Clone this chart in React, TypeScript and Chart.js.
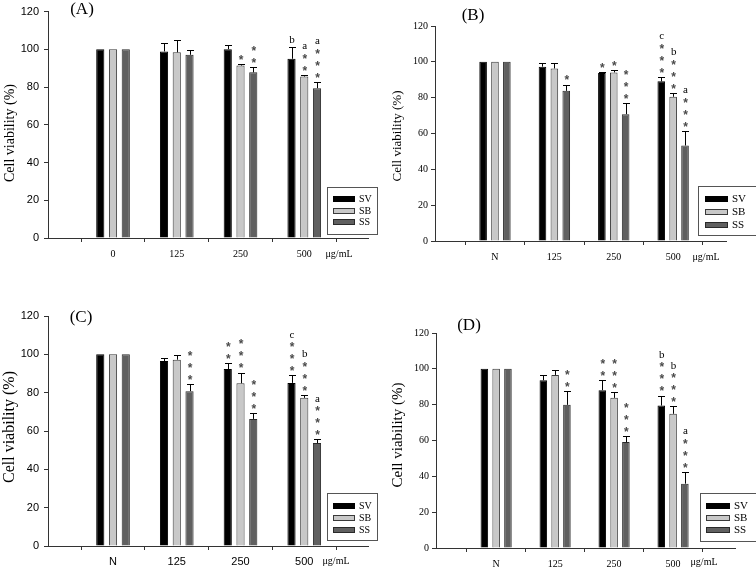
import React, { useEffect, useRef } from 'react';
import { Chart, registerables } from 'chart.js';

Chart.register(...registerables);

const SERIF = "'Liberation Serif', 'Times New Roman', serif";
const SANS = "'Liberation Sans', Arial, sans-serif";

// ---------- data ----------
const seriesNames = ['SV', 'SB', 'SS'];
const dosesA = ['0', '125', '250', '500'];
const dosesN = ['N', '125', '250', '500'];
const unitLabel = 'μg/mL';
const yTitle = 'Cell viability (%)';

// Panel A
const svA = [100, 98.9, 100.1, 95.0];
const sbA = [100, 98.4, 91.4, 85.6];
const ssA = [100, 97.1, 87.8, 79.4];
const svErrA = [0, 4.2, 2.3, 6.3];
const sbErrA = [0, 6.5, 0.9, 1.0];
const ssErrA = [0, 2.3, 3.0, 3.4];
const svStarsA = [0, 0, 0, 0];
const sbStarsA = [0, 0, 1, 2];
const ssStarsA = [0, 0, 2, 3];
const svLetterA = ['', '', '', 'b'];
const sbLetterA = ['', '', '', 'a'];
const ssLetterA = ['', '', '', 'a'];

// Panel B
const svB = [100, 97.3, 93.7, 89.1];
const sbB = [100, 96.3, 94.1, 80.5];
const ssB = [100, 83.8, 70.8, 53.3];
const svErrB = [0, 1.8, 0.8, 2.6];
const sbErrB = [0, 2.8, 1.1, 2.2];
const ssErrB = [0, 3.5, 6.3, 8.2];
const svStarsB = [0, 0, 1, 3];
const sbStarsB = [0, 0, 1, 3];
const ssStarsB = [0, 1, 3, 3];
const svLetterB = ['', '', '', 'c'];
const sbLetterB = ['', '', '', 'b'];
const ssLetterB = ['', '', '', 'a'];

// Panel C
const svC = [100, 96.5, 92.3, 85.1];
const sbC = [100, 97.2, 84.9, 77.3];
const ssC = [100, 80.8, 66.3, 53.7];
const svErrC = [0, 1.4, 3.3, 3.9];
const sbErrC = [0, 2.4, 5.6, 1.5];
const ssErrC = [0, 3.6, 3.3, 1.9];
const svStarsC = [0, 0, 2, 3];
const sbStarsC = [0, 0, 3, 3];
const ssStarsC = [0, 3, 3, 3];
const svLetterC = ['', '', '', 'c'];
const sbLetterC = ['', '', '', 'b'];
const ssLetterC = ['', '', '', 'a'];

// Panel D
const svD = [100, 93.6, 88.1, 79.5];
const sbD = [100, 96.6, 83.8, 74.9];
const ssD = [100, 79.9, 59.1, 35.9];
const svErrD = [0, 3.2, 5.7, 5.6];
const sbErrD = [0, 2.6, 3.0, 4.1];
const ssErrD = [0, 7.8, 3.5, 6.6];
const svStarsD = [0, 0, 2, 3];
const sbStarsD = [0, 0, 3, 3];
const ssStarsD = [0, 2, 3, 3];
const svLetterD = ['', '', '', 'b'];
const sbLetterD = ['', '', '', 'b'];
const ssLetterD = ['', '', '', 'a'];

// ---------- styles ----------
const fills = ['#000000', '#c8c8c8', '#606060'];
const borders = ['#000000', '#3a3a3a', '#2a2a2a'];

type Series = { values: number[]; err: number[]; stars: number[]; letters: string[] };
type PanelCfg = {
  label: string;
  left: number; top: number; w: number; h: number;
  area: { l: number; t: number; r: number; b: number };
  xMin: number; xMax: number;
  cats: string[];
  series: Series[];
  yFont: { family: string; size: number }; yPad: number;
  xFont: { family: string; size: number }; xPad: number;
  labelPos: [number, number];
  unitPos: [number, number];
  titlePos: [number, number]; titleSize: number;
  legend: { x: number; y: number; w: number; h: number; rows: number[]; swX: number; swW: number; textX: number; size: number };
};

const panels: PanelCfg[] = [
  {
    label: '(A)', left: 0, top: 0, w: 378, h: 284,
    area: { l: 48, t: 7, r: 368, b: 238 }, xMin: -1.02, xMax: 4.0, cats: dosesA,
    series: [
      { values: svA, err: svErrA, stars: svStarsA, letters: svLetterA },
      { values: sbA, err: sbErrA, stars: sbStarsA, letters: sbLetterA },
      { values: ssA, err: ssErrA, stars: ssStarsA, letters: ssLetterA },
    ],
    yFont: { family: SANS, size: 11 }, yPad: 5,
    xFont: { family: SERIF, size: 10 }, xPad: 6,
    labelPos: [82, 10], unitPos: [339, 254], titlePos: [10, 133], titleSize: 14,
    legend: { x: 327, y: 187, w: 50, h: 47, rows: [199, 210.5, 222], swX: 333, swW: 22, textX: 359, size: 10 },
  },
  {
    label: '(B)', left: 378, top: 0, w: 378, h: 284,
    area: { l: 57, t: 26, r: 348, b: 241 }, xMin: -1.01, xMax: 3.89, cats: dosesN,
    series: [
      { values: svB, err: svErrB, stars: svStarsB, letters: svLetterB },
      { values: sbB, err: sbErrB, stars: sbStarsB, letters: sbLetterB },
      { values: ssB, err: ssErrB, stars: ssStarsB, letters: ssLetterB },
    ],
    yFont: { family: SERIF, size: 10 }, yPad: 3,
    xFont: { family: SERIF, size: 10 }, xPad: 6,
    labelPos: [95, 16], unitPos: [328, 257], titlePos: [20, 136], titleSize: 13,
    legend: { x: 320, y: 186, w: 60, h: 49, rows: [199, 212, 225], swX: 327, swW: 23, textX: 354, size: 11 },
  },
  {
    label: '(C)', left: 0, top: 284, w: 378, h: 284,
    area: { l: 48, t: 32, r: 368, b: 262 }, xMin: -1.02, xMax: 4.0, cats: dosesN,
    series: [
      { values: svC, err: svErrC, stars: svStarsC, letters: svLetterC },
      { values: sbC, err: sbErrC, stars: sbStarsC, letters: sbLetterC },
      { values: ssC, err: ssErrC, stars: ssStarsC, letters: ssLetterC },
    ],
    yFont: { family: SANS, size: 11 }, yPad: 5,
    xFont: { family: SANS, size: 11 }, xPad: 5,
    labelPos: [81, 34], unitPos: [336, 277], titlePos: [10, 143], titleSize: 16,
    legend: { x: 327, y: 209, w: 50, h: 47, rows: [222, 234, 246], swX: 333, swW: 22, textX: 359, size: 10 },
  },
  {
    label: '(D)', left: 378, top: 284, w: 378, h: 284,
    area: { l: 58, t: 49, r: 357, b: 264 }, xMin: -1.02, xMax: 4.05, cats: dosesN,
    series: [
      { values: svD, err: svErrD, stars: svStarsD, letters: svLetterD },
      { values: sbD, err: sbErrD, stars: sbStarsD, letters: sbLetterD },
      { values: ssD, err: ssErrD, stars: ssStarsD, letters: ssLetterD },
    ],
    yFont: { family: SERIF, size: 10 }, yPad: 3,
    xFont: { family: SERIF, size: 10 }, xPad: 6,
    labelPos: [91, 42], unitPos: [326, 278], titlePos: [20, 151], titleSize: 15,
    legend: { x: 322, y: 209, w: 60, h: 48, rows: [222, 234, 246], swX: 328, swW: 24, textX: 356, size: 11 },
  },
];

function makeDecor(cfg: PanelCfg) {
  return {
    id: 'decor' + cfg.label,
    afterDatasetsDraw(chart: any) {
      const ctx = chart.ctx as CanvasRenderingContext2D;
      const ys = chart.scales.y;
      ctx.save();
      cfg.series.forEach((s, di) => {
        const meta = chart.getDatasetMeta(di);
        meta.data.forEach((bar: any, i: number) => {
          const v = s.values[i];
          const e = s.err[i];
          const x = bar.x;
          let top = ys.getPixelForValue(v);
          if (e > 0) {
            const capY = ys.getPixelForValue(v + e);
            const xr = Math.round(x) + 0.5;
            const cr = Math.round(capY) + 0.5;
            ctx.strokeStyle = '#000';
            ctx.lineWidth = 1;
            ctx.beginPath();
            ctx.moveTo(xr, top);
            ctx.lineTo(xr, cr);
            ctx.moveTo(xr - 3.5, cr);
            ctx.lineTo(xr + 3.5, cr);
            ctx.stroke();
            top = capY;
          }
          let cy = top - 7;
          let lastY = top;
          ctx.fillStyle = '#4a4a4a';
          ctx.font = `bold 12px ${SANS}`;
          ctx.textAlign = 'center';
          ctx.textBaseline = 'alphabetic';
          for (let k = 0; k < s.stars[i]; k++) {
            ctx.fillText('*', x + 0.5, cy + 6.9);
            lastY = cy;
            cy -= 12;
          }
          const letter = s.letters[i];
          if (letter) {
            const ly = s.stars[i] > 0 ? lastY - 10 : top - 7;
            ctx.fillStyle = '#000';
            ctx.font = `11px ${SERIF}`;
            ctx.fillText(letter, x + 0.5, ly + 3.5);
          }
        });
      });
      ctx.restore();
    },
    afterDraw(chart: any) {
      const ctx = chart.ctx as CanvasRenderingContext2D;
      ctx.save();
      ctx.fillStyle = '#000';
      ctx.font = `17px ${SERIF}`;
      ctx.textAlign = 'center';
      ctx.textBaseline = 'middle';
      ctx.fillText(cfg.label, cfg.labelPos[0], cfg.labelPos[1]);
      ctx.font = `10px ${SERIF}`;
      ctx.fillText(unitLabel, cfg.unitPos[0], cfg.unitPos[1]);
      ctx.save();
      ctx.translate(cfg.titlePos[0], cfg.titlePos[1]);
      ctx.rotate(-Math.PI / 2);
      ctx.font = `${cfg.titleSize}px ${SERIF}`;
      ctx.fillText(yTitle, 0, 0);
      ctx.restore();
      const L = cfg.legend;
      ctx.strokeStyle = '#555';
      ctx.lineWidth = 1;
      ctx.fillStyle = '#fff';
      ctx.fillRect(L.x, L.y, L.w, L.h);
      ctx.strokeRect(L.x + 0.5, L.y + 0.5, L.w, L.h);
      seriesNames.forEach((name, i) => {
        const ry = L.rows[i];
        ctx.fillStyle = fills[i];
        ctx.fillRect(L.swX, Math.round(ry - 3), L.swW, 6);
        ctx.strokeStyle = borders[i];
        ctx.strokeRect(L.swX + 0.5, Math.round(ry - 3) + 0.5, L.swW - 1, 5);
        ctx.fillStyle = '#000';
        ctx.font = `${L.size}px ${SERIF}`;
        ctx.textAlign = 'left';
        ctx.textBaseline = 'middle';
        ctx.fillText(name, L.textX, ry + 0.5);
      });
      ctx.restore();
    },
  };
}

function Panel({ cfg }: { cfg: PanelCfg }) {
  const ref = useRef<HTMLCanvasElement | null>(null);
  useEffect(() => {
    if (!ref.current) return;
    const { area } = cfg;
    const chart = new Chart(ref.current, {
      type: 'bar',
      data: {
        datasets: cfg.series.map((s, i) => ({
          label: seriesNames[i],
          data: s.values.map((v, j) => ({ x: j, y: v })),
          backgroundColor: fills[i],
          borderColor: borders[i],
          borderWidth: 1,
          categoryPercentage: 0.6,
          barPercentage: 0.64,
        })),
      },
      options: {
        responsive: false,
        animation: false,
        events: [],
        layout: { padding: { left: 0, top: area.t, right: cfg.w - area.r, bottom: 0 } },
        plugins: { legend: { display: false }, tooltip: { enabled: false } },
        scales: {
          x: {
            type: 'linear',
            min: cfg.xMin,
            max: cfg.xMax,
            offset: false,
            afterFit: (s: any) => { s.height = cfg.h - area.b; },
            afterBuildTicks: (s: any) => { s.ticks = cfg.cats.map((_, i) => ({ value: i })); },
            grid: { drawOnChartArea: false, drawTicks: true, tickLength: 4, color: '#333' },
            border: { display: true, color: '#333', width: 1 },
            ticks: {
              callback: (v: any) => cfg.cats[v] ?? '',
              font: cfg.xFont,
              color: '#000',
              padding: cfg.xPad,
              maxRotation: 0,
              autoSkip: false,
            },
          },
          y: {
            min: 0,
            max: 120,
            afterFit: (s: any) => { s.width = area.l; },
            grid: { drawOnChartArea: false, drawTicks: true, tickLength: 4, color: '#333' },
            border: { display: true, color: '#333', width: 1 },
            ticks: { stepSize: 20, font: cfg.yFont, color: '#000', padding: cfg.yPad },
          },
        },
      } as any,
      plugins: [makeDecor(cfg)],
    });
    return () => chart.destroy();
  }, [cfg]);
  return (
    <canvas
      ref={ref}
      width={cfg.w}
      height={cfg.h}
      style={{ position: 'absolute', left: cfg.left, top: cfg.top, width: cfg.w, height: cfg.h, display: 'block' }}
    />
  );
}

export default function App() {
  return (
    <div style={{ position: 'absolute', left: 0, top: 0, width: 756, height: 568, background: '#fff', overflow: 'hidden' }}>
      {panels.map((p) => (
        <Panel key={p.label} cfg={p} />
      ))}
    </div>
  );
}
